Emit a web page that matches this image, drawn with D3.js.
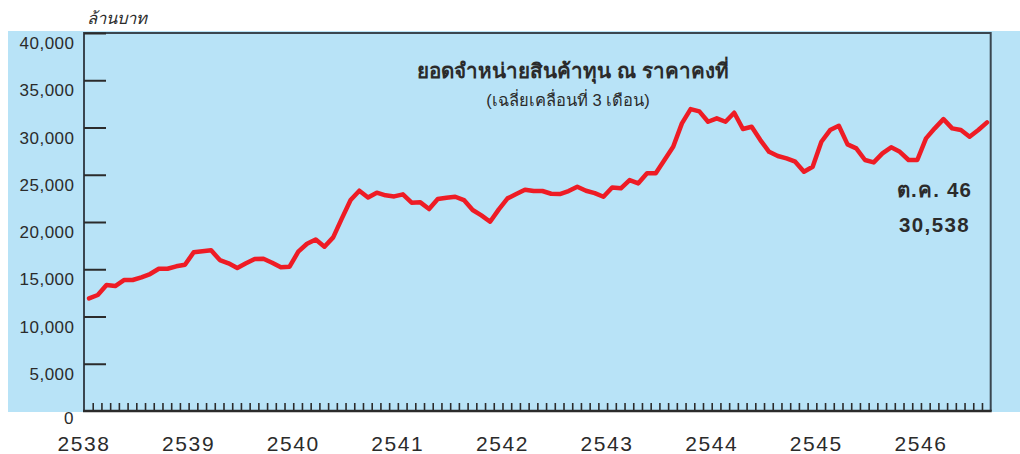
<!DOCTYPE html>
<html><head><meta charset="utf-8">
<script src="https://cdn.jsdelivr.net/npm/d3@7"></script>
<style>body{margin:0;background:#fff;}svg{display:block;font-family:"Liberation Sans","Noto Sans",sans-serif;}</style>
</head><body>
<svg id="c" width="1020" height="454"></svg>
<script>
const values = [11923,12273,13330,13225,13860,13860,14145,14495,15056,15056,15310,15480,16790,16896,17000,15976,15625,15130,15625,16080,16115,15690,15200,15270,16860,17700,18150,17380,18375,20390,22320,23310,22600,23100,22820,22710,22925,22040,22080,21370,22430,22570,22670,22320,21270,20700,20030,21340,22500,22960,23420,23280,23280,22990,22960,23280,23730,23310,23060,22670,23660,23560,24440,24090,25150,25150,26560,27960,30440,31950,31710,30610,30970,30610,31560,29840,30080,28670,27430,26980,26730,26380,25320,25850,28490,29730,30180,28210,27790,26560,26310,27260,27900,27430,26560,26560,28850,29910,30890,29910,29730,29020,29730,30538];
const yearLabels = ["2538","2539","2540","2541","2542","2543","2544","2545","2546"];
const yTicks = [0,5000,10000,15000,20000,25000,30000,35000,40000];
const unitLabel = "ล้านบาท";
const title = "ยอดจำหน่ายสินค้าทุน ณ ราคาคงที่";
const subtitle = "(เฉลี่ยเคลื่อนที่ 3 เดือน)";
const noteMonth = "ต.ค. 46";
const noteValue = "30,538";
const totalMonths = 104;
const firstOffset = 0.58;

const svg = d3.select("#c");
const L=84,R=990.7,T=33,B=411;
const x = d3.scaleLinear().domain([0,totalMonths]).range([L,R]);
const y = d3.scaleLinear().domain([0,40000]).range([B,T]);
const fmt = d3.format(",");

svg.append("rect").attr("x",8).attr("y",31).attr("width",1012).attr("height",381).attr("fill","#b8e3f7");

// frame
svg.append("path").attr("d",`M${L},${B}V${T}H${R}V${B}`).attr("fill","none").attr("stroke","#3a4650").attr("stroke-width",2);

// y ticks (inward)
const yAxis = svg.append("g").attr("transform",`translate(${L},0)`)
  .call(d3.axisRight(y).tickValues(yTicks.filter(d=>d>0)).tickSize(22).tickFormat(""));
yAxis.select(".domain").remove();
yAxis.selectAll("line").attr("stroke","#2b2b2b").attr("stroke-width",2);

// y labels (sit just below their tick)
svg.append("g").selectAll("text").data(yTicks).join("text")
  .attr("x",d=>d===0?73.5:74.5).attr("y",d=>d===0?y(d)+13:y(d)+16)
  .attr("text-anchor","end")
  .attr("font-size",17).attr("fill","#2b2b2b").attr("letter-spacing",d=>d===0?0:0.5)
  .text(d=>fmt(d));

// x month ticks
const xAxis = svg.append("g").attr("transform",`translate(0,${B})`)
  .call(d3.axisTop(x).tickValues(d3.range(1,totalMonths)).tickSize(8).tickFormat(""));
xAxis.select(".domain").remove();
xAxis.selectAll("line").attr("stroke","#2b2b2b").attr("stroke-width",1.6);
svg.append("line").attr("x1",L-1).attr("x2",R+1).attr("y1",B).attr("y2",B).attr("stroke","#2b2b2b").attr("stroke-width",2.5);

// year labels
svg.append("g").selectAll("text").data(yearLabels).join("text")
  .attr("x",(d,i)=>x(i*12)).attr("y",451).attr("text-anchor","middle")
  .attr("font-size",21).attr("fill","#2b2b2b").attr("letter-spacing",1.6)
  .text(d=>d);

// unit
svg.append("text").attr("x",87).attr("y",24).attr("font-size",16.5).attr("font-style","italic").attr("fill","#2b2b2b").text(unitLabel);

// title
svg.append("text").attr("x",573).attr("y",78).attr("text-anchor","middle").attr("font-size",20.6).attr("font-weight","bold").attr("fill","#2b2b2b").text(title);
svg.append("text").attr("x",568).attr("y",106).attr("text-anchor","middle").attr("font-size",16.5).attr("fill","#2b2b2b").text(subtitle);

// line
const line = d3.line().x((d,i)=>x(i+firstOffset)).y(d=>y(d)).curve(d3.curveLinear);
svg.append("path").datum(values).attr("d",line).attr("fill","none").attr("stroke","#ee1c25").attr("stroke-width",4.5).attr("stroke-linejoin","round").attr("stroke-linecap","round");

// annotation
svg.append("text").attr("x",934.5).attr("y",197).attr("text-anchor","middle").attr("font-size",20.5).attr("font-weight","bold").attr("fill","#2b2b2b").attr("letter-spacing",1.2).text(noteMonth);
svg.append("text").attr("x",934.5).attr("y",232).attr("text-anchor","middle").attr("font-size",20.5).attr("font-weight","bold").attr("fill","#2b2b2b").attr("letter-spacing",1.4).text(noteValue);
</script>
</body></html>
